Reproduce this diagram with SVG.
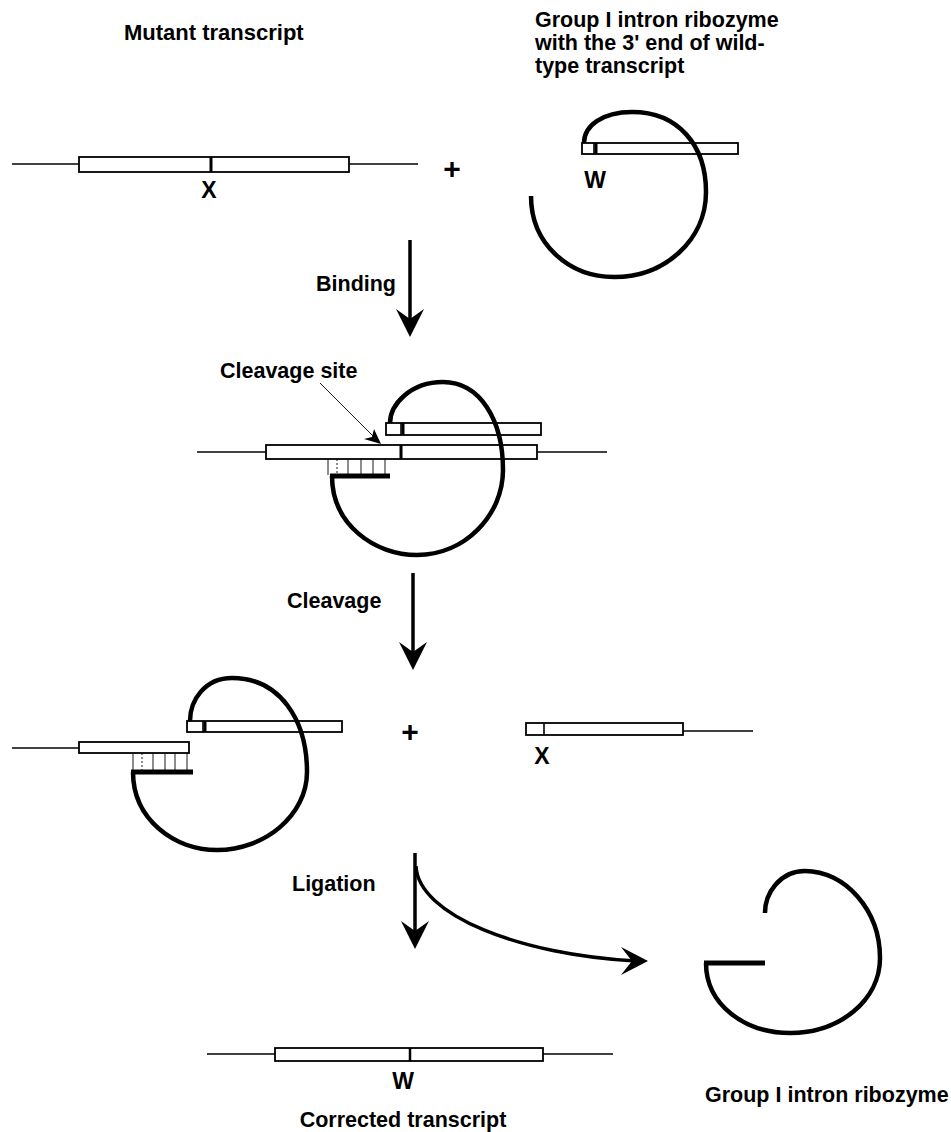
<svg xmlns="http://www.w3.org/2000/svg" width="951" height="1132" viewBox="0 0 951 1132">
<style>
.bg{fill:#fff}
.thin{stroke:#000;stroke-width:1.6;fill:none}
.hair{stroke:#000;stroke-width:0.9;fill:none}
.box{fill:#fff;stroke:#000;stroke-width:1.8}
.mark{stroke:#000;stroke-width:3}
.rz{fill:none;stroke:#000;stroke-width:4.5}
.bar{stroke:#000;stroke-width:5}
.shaft{stroke:#000;stroke-width:3.5;fill:none}
.head{fill:#000}
.lbl{font-family:"Liberation Sans",Arial,Helvetica,sans-serif;font-weight:bold;font-size:21.5px;fill:#000}
.big{font-size:23px}
.plus{font-size:30px}
.mid{text-anchor:middle}
</style>
<rect class="bg" x="0" y="0" width="951" height="1132"/>

<g id="label-mutant"><text class="lbl" x="124" y="40" style="font-size:22px">Mutant transcript</text></g>
<g id="label-ribozyme-top">
<text class="lbl" x="535" y="27">Group I intron ribozyme</text>
<text class="lbl" x="535" y="50">with the 3' end of wild-</text>
<text class="lbl" x="535" y="73">type transcript</text>
</g>

<g id="mutant-transcript">
<line class="thin" x1="12" y1="164" x2="79" y2="164"/>
<line class="thin" x1="349" y1="164" x2="418" y2="164"/>
<rect class="box" x="79" y="157" width="270" height="15"/>
<line class="mark" x1="211" y1="157" x2="211" y2="172"/>
<text class="lbl big mid" x="209" y="198">X</text>
</g>

<g id="plus-top"><text class="lbl plus mid" x="452" y="179">+</text></g>

<g id="ribozyme-wt">
<rect class="box" x="582" y="143" width="156" height="11"/>
<line class="thin" x1="594" y1="143" x2="594" y2="154"/>
<line class="mark" x1="596" y1="143" x2="596" y2="154"/>
<path class="rz" d="M531,196 C531,245 570,277 614,277 C665,277 706,240 706,192 C706,145 678,112 632,112 C602,112 584,126 584,143"/>
<text class="lbl big mid" x="595" y="188">W</text>
</g>

<g id="binding-complex">
<line class="thin" x1="197" y1="452" x2="266" y2="452"/>
<line class="thin" x1="537" y1="452" x2="607" y2="452"/>
<rect class="box" x="266" y="445" width="271" height="14"/>
<line class="mark" x1="401" y1="445" x2="401" y2="459"/>
<rect class="box" x="386" y="423" width="155" height="12"/>
<line class="thin" x1="401" y1="423" x2="401" y2="435"/>
<line class="mark" x1="403" y1="423" x2="403" y2="435"/>
<line class="hair" x1="328" y1="459" x2="328" y2="475"/>
<line class="hair" x1="337" y1="459" x2="337" y2="475" stroke-dasharray="2 2"/>
<line class="hair" x1="348" y1="459" x2="348" y2="475"/>
<line class="hair" x1="361" y1="459" x2="361" y2="475"/>
<line class="hair" x1="373" y1="459" x2="373" y2="475"/>
<line class="hair" x1="385" y1="459" x2="385" y2="475"/>
<line class="bar" x1="330" y1="476" x2="390" y2="476"/>
<path class="rz" d="M332,476 C332,525 375,555 417,555 C465,555 503,515 503,470 C503,420 480,382 443,382 C410,382 390,405 390,423"/>
</g>

<g id="label-cleavage-site">
<text class="lbl" x="220" y="378">Cleavage site</text>
</g>

<g id="cleaved-complex">
<line class="thin" x1="12" y1="748" x2="79" y2="748"/>
<rect class="box" x="79" y="742" width="110" height="11"/>
<rect class="box" x="187" y="721" width="155" height="11"/>
<line class="thin" x1="203" y1="721" x2="203" y2="732"/>
<line class="mark" x1="205" y1="721" x2="205" y2="732"/>
<line class="hair" x1="133" y1="753" x2="133" y2="770"/>
<line class="hair" x1="142" y1="753" x2="142" y2="770" stroke-dasharray="2 2"/>
<line class="hair" x1="153" y1="753" x2="153" y2="770"/>
<line class="hair" x1="165" y1="753" x2="165" y2="770"/>
<line class="hair" x1="175" y1="753" x2="175" y2="770"/>
<line class="hair" x1="187" y1="753" x2="187" y2="770"/>
<line class="bar" x1="131" y1="772" x2="193" y2="772"/>
<path class="rz" d="M133,772 C133,820 175,850 217,850 C265,850 307,815 307,772 C307,720 280,678 232,678 C205,678 190,700 190,721"/>
</g>

<g id="plus-mid"><text class="lbl plus mid" x="410" y="742">+</text></g>

<g id="released-fragment">
<line class="thin" x1="683" y1="731" x2="753" y2="731"/>
<rect class="box" x="526" y="723" width="157" height="12"/>
<line class="thin" x1="544" y1="723" x2="544" y2="735"/>
<text class="lbl big mid" x="542" y="764">X</text>
</g>

<g id="free-ribozyme">
<line class="bar" x1="704" y1="963" x2="765" y2="963"/>
<path class="rz" d="M706,963 C706,1005 745,1033 790,1033 C840,1033 880,1000 880,958 C880,910 845,871 805,871 C780,871 765,893 765,913"/>
<text class="lbl" x="705" y="1102">Group I intron ribozyme</text>
</g>

<g id="corrected-transcript">
<line class="thin" x1="207" y1="1054" x2="275" y2="1054"/>
<line class="thin" x1="543" y1="1054" x2="613" y2="1054"/>
<rect class="box" x="275" y="1048" width="268" height="13"/>
<line class="mark" x1="410" y1="1048" x2="410" y2="1061" style="stroke-width:2.5"/>
<text class="lbl big mid" x="403" y="1089">W</text>
<text class="lbl mid" x="403" y="1127">Corrected transcript</text>
</g>

<g id="connectors">
<line class="hair" x1="320" y1="383" x2="376" y2="439"/>
<polygon class="head" points="381,444 364,439 372,437 374,429"/>
<line class="shaft" x1="410" y1="240" x2="410" y2="325"/>
<polygon class="head" points="410,337 396,309 410,319 424,309"/>
<text class="lbl" x="316" y="291">Binding</text>
<line class="shaft" x1="413" y1="573" x2="413" y2="658"/>
<polygon class="head" points="413,670 399,642 413,652 427,642"/>
<text class="lbl" x="287" y="608">Cleavage</text>
<line class="shaft" x1="415" y1="853" x2="415" y2="937"/>
<polygon class="head" points="415,949 401,921 415,931 429,921"/>
<path class="shaft" d="M416,866 C418,915 520,955 636,961"/>
<polygon class="head" points="648,961 621,947 632,961 621,975"/>
<text class="lbl" x="292" y="891">Ligation</text>
</g>
</svg>
